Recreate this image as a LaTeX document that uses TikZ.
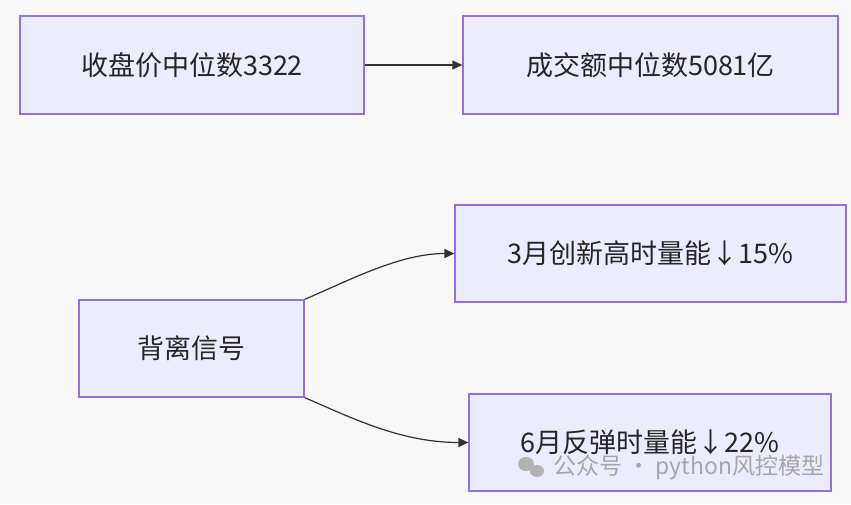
\documentclass[tikz,border=0pt]{standalone}
\usepackage{fontspec}
\setmainfont{Noto Sans CJK SC}
\usetikzlibrary{arrows.meta}
\definecolor{bg}{HTML}{F8F8F8}
\definecolor{boxfill}{HTML}{ECECFF}
\definecolor{boxdraw}{HTML}{9370DB}
\definecolor{ln}{HTML}{333333}
\begin{document}
\begin{tikzpicture}[x=1pt,y=-1pt,
  box/.style={draw=boxdraw,fill=boxfill,line width=1.2pt,inner sep=0pt,font=\fontsize{27}{32}\selectfont,text=black!85},
  arr/.style={draw=ln,line width=1.2pt,-{Triangle[length=10pt,width=9pt]}}]
\fill[bg] (0,0) rectangle (851,504);
\useasboundingbox (0,0) rectangle (851,504);
\node[box,minimum width=344pt,minimum height=98pt] (a) at (192,65) {收盘价中位数3322};
\node[box,minimum width=375pt,minimum height=98pt] (b) at (650.5,65) {成交额中位数5081亿};
\node[box,minimum width=391pt,minimum height=97pt] (c) at (650.5,253.5) {3月创新高时量能↓15\%};
\node[box,minimum width=225pt,minimum height=97pt] (d) at (191.5,348.5) {背离信号};
\node[box,minimum width=362pt,minimum height=97pt] (e) at (650,442.5) {\raisebox{2pt}{6月反弹时量能↓22\%}};
\draw[arr] (a.east) -- (b.west);
\draw[arr] (d.north east) .. controls (350,280) and (400,253.5) .. (c.west);
\draw[arr] (d.south east) .. controls (350,417) and (400,442.5) .. (e.west);
\node[text=gray!70,font=\fontsize{23}{26}\selectfont] (w) at (689,467) {公众号 · python风控模型};
\fill[gray!60] (526,464) ellipse (8pt and 7pt);
\fill[gray!60] (537,471) ellipse (7pt and 6pt);
\end{tikzpicture}
\end{document}
